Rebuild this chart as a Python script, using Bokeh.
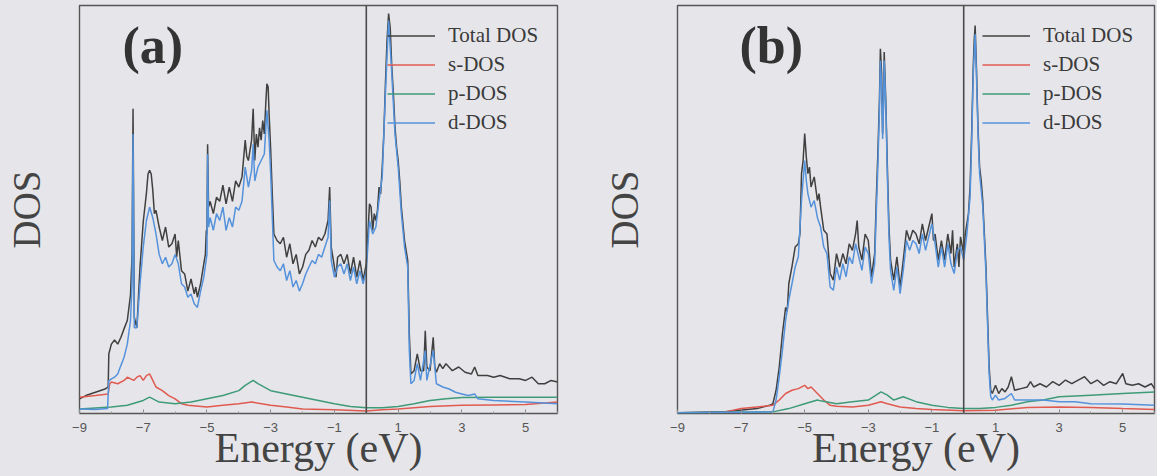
import numpy as np
from bokeh.plotting import figure
from bokeh.models import Span, Label, Legend, LegendItem, FixedTicker, Range1d
from bokeh.layouts import row
from bokeh.embed import file_html
from bokeh.resources import INLINE

# ---------------- data (Energy in eV, DOS in arbitrary units 0-100) ----------------
tick_values = [-9, -7, -5, -3, -1, 1, 3, 5]
minor_values = list(range(-9, 7))
series_names = ["Total DOS", "s-DOS", "p-DOS", "d-DOS"]

a_total = [(-9.0,3.6),(-8.8,4.4),(-8.5,5.2),(-8.2,6.0),(-8.1,6.5),(-8.08,14.6),(-8.0,17),(-7.9,18),(-7.8,17),(-7.7,18.7),
 (-7.6,20.8),(-7.5,22.8),(-7.4,29),(-7.35,39),(-7.32,74.7),(-7.28,23.6),(-7.2,21),(-7.1,36),(-7.0,47),(-6.9,54),
 (-6.85,58.7),(-6.8,59.6),(-6.75,58.7),(-6.7,54.7),(-6.65,49),(-6.6,49.8),(-6.5,45.7),(-6.4,42.4),(-6.3,45.7),(-6.2,40.8),
 (-6.1,41.6),(-6.0,44),(-5.95,38.3),(-5.9,42.4),(-5.8,35),(-5.7,34.2),(-5.6,30),(-5.5,33),(-5.4,29.3),(-5.35,31),
 (-5.3,28.5),(-5.2,31.8),(-5.1,36.7),(-5.05,39),(-5.02,44.9),(-5.0,44),(-4.98,66),(-4.95,50.6),(-4.9,52),(-4.8,49),
 (-4.7,53),(-4.6,52),(-4.5,56),(-4.4,51.4),(-4.3,55.5),(-4.2,52),(-4.1,57),(-4.0,55.5),(-3.9,58),(-3.8,67),
 (-3.75,63),(-3.7,62),(-3.6,67),(-3.55,74.7),(-3.5,62),(-3.45,68.5),(-3.4,65.3),(-3.35,70),(-3.3,67),(-3.25,71.8),
 (-3.2,68.5),(-3.15,76.7),(-3.12,80.8),(-3.08,80),(-3.05,73.4),(-3.0,64.5),(-2.95,53.8),(-2.9,44),(-2.8,42.4),(-2.7,41.6),
 (-2.6,43.2),(-2.5,38.3),(-2.4,41.6),(-2.3,36.7),(-2.2,39),(-2.1,34.2),(-2.0,35.9),(-1.9,39),(-1.8,40),(-1.7,42.4),
 (-1.6,40.8),(-1.5,43.2),(-1.4,42.4),(-1.3,44),(-1.2,47.3),(-1.15,55.5),(-1.1,40.8),(-1.0,35.9),(-0.95,33.4),(-0.9,38.3),
 (-0.8,39),(-0.7,36.7),(-0.6,39),(-0.5,34.2),(-0.4,38.3),(-0.3,33.4),(-0.2,37.5),(-0.1,32.6),(0.0,36.7),(0.05,44),
 (0.1,51.4),(0.15,50.6),(0.2,44.9),(0.25,49),(0.3,47.3),(0.35,49.8),(0.4,55.5),(0.45,53.8),(0.5,60.4),(0.55,68.5),
 (0.6,80.8),(0.65,91.4),(0.7,98),(0.75,94.6),(0.8,84.9),(0.85,78.4),(0.9,70.2),(0.95,65.3),(1.0,62),(1.05,57),
 (1.1,50.6),(1.2,42.4),(1.3,37.5),(1.35,19.5),(1.4,9.7),(1.5,10.5),(1.6,14.6),(1.7,10.5),(1.8,10.5),(1.85,20.3),
 (1.9,11.4),(2.0,10.5),(2.05,14.6),(2.1,18.7),(2.15,11.4),(2.2,10.1),(2.3,12.2),(2.4,11),(2.5,12.2),(2.7,10.5),
 (2.9,11.4),(3.1,10.1),(3.3,9.7),(3.4,11.4),(3.5,9.3),(3.8,9.3),(4.0,8.9),(4.2,9.3),(4.5,8.5),(4.8,8.5),
 (5.0,8.1),(5.2,8.9),(5.4,7.3),(5.6,7.3),(5.8,8.1),(6.0,7.7)]

a_s = [(-9,4),(-8.5,4.4),(-8.1,4.8),(-8.05,7.3),(-8.0,7.7),(-7.8,7.3),(-7.6,8.1),(-7.5,8.9),(-7.3,8.1),(-7.2,8.9),
 (-7.1,9.3),(-7.0,8.1),(-6.9,9.3),(-6.8,9.7),(-6.7,8.1),(-6.6,6.5),(-6.4,5.6),(-6.2,4.4),(-6.0,3.6),(-5.8,2.4),
 (-5.6,2),(-5.0,1.6),(-4.5,2),(-4.0,2.4),(-3.6,2.8),(-3.0,2),(-2.5,1.6),(-2.0,1.1),(-1.0,0.9),(0.0,0.6),
 (0.5,0.9),(1.0,1.1),(2.0,1.7),(3.0,2),(4.0,2.1),(5.0,2.2),(6.0,2.8)]

a_p = [(-9,1.1),(-8.0,1.6),(-7.5,2),(-7.0,3.2),(-6.8,4),(-6.5,2.8),(-6.0,2.4),(-5.5,2.8),(-5.0,3.6),(-4.5,4.4),
 (-4.0,5.6),(-3.8,6.9),(-3.55,8.1),(-3.4,7.3),(-3.0,5.6),(-2.5,4.8),(-2.0,4),(-1.5,3.2),(-1.0,2.4),(-0.5,1.7),
 (0.0,1.4),(0.5,1.4),(1.0,1.7),(1.5,2.4),(2.0,3.2),(2.5,3.6),(3.0,3.9),(4.0,4),(5.0,4),(6.0,4)]

a_d = [(-9,1.1),(-8.5,1.0),(-8.12,1.2),(-8.08,8),(-8.0,8.5),(-7.9,8.9),(-7.8,9.7),(-7.7,11.8),(-7.6,13.8),(-7.5,17),
 (-7.4,22.8),(-7.35,31.8),(-7.32,68.5),(-7.28,21),(-7.2,21),(-7.1,31.8),(-7.0,40.8),(-6.9,47.3),(-6.8,50.6),(-6.7,48),
 (-6.6,44),(-6.5,39),(-6.4,36.7),(-6.3,38.3),(-6.2,35.9),(-6.1,36.7),(-6.0,39),(-5.9,36.7),(-5.8,31.8),(-5.7,31),
 (-5.6,28.5),(-5.5,29.3),(-5.4,26.9),(-5.3,26),(-5.2,30),(-5.1,33.4),(-5.0,39),(-4.98,63.6),(-4.95,45.7),(-4.9,48),
 (-4.8,44.9),(-4.7,49),(-4.6,47.3),(-4.5,50.6),(-4.4,44.9),(-4.3,48),(-4.2,45.7),(-4.1,50.6),(-4.0,49.8),(-3.9,52),
 (-3.8,60.4),(-3.7,55.5),(-3.6,59.6),(-3.55,66),(-3.5,57),(-3.4,60.4),(-3.3,62),(-3.2,63.6),(-3.12,74.3),(-3.05,67),
 (-3.0,58.7),(-2.9,37.5),(-2.8,35.9),(-2.7,35),(-2.6,36.7),(-2.5,32.6),(-2.4,35),(-2.3,31),(-2.2,32.6),(-2.1,30),
 (-2.0,31.8),(-1.9,34.2),(-1.8,35.9),(-1.7,37.5),(-1.6,36.7),(-1.5,39),(-1.4,38.3),(-1.3,40.8),(-1.2,43.2),(-1.15,52.2),
 (-1.1,37.5),(-1.0,33.4),(-0.9,35.9),(-0.8,36.7),(-0.7,34.2),(-0.6,36.7),(-0.5,32.6),(-0.4,35.9),(-0.3,31.8),(-0.2,35),
 (-0.1,31.8),(0.0,35),(0.1,47.3),(0.2,44),(0.3,45.7),(0.4,52.2),(0.5,58),(0.6,78.4),(0.7,96.3),(0.8,83.3),
 (0.9,68.5),(1.0,60.4),(1.1,49),(1.2,40.8),(1.3,35.9),(1.35,15.4),(1.4,7.3),(1.5,8.1),(1.6,12.2),(1.7,8.1),
 (1.85,15.4),(1.9,8.1),(2.1,15.4),(2.2,7.3),(2.4,6.5),(2.6,6),(2.8,5.2),(3.0,4.8),(3.2,4.4),(3.4,4.8),
 (3.5,3.6),(4.0,3.2),(5.0,2.8),(6.0,2.4)]

b_total = [(-9,0.2),(-7.5,0.4),(-6.5,1.2),(-6.1,2),(-6.0,2.4),(-5.9,5.7),(-5.8,11.4),(-5.7,19.6),(-5.6,26),(-5.55,25),
 (-5.5,31.8),(-5.4,36),(-5.3,40.8),(-5.2,41.6),(-5.15,44),(-5.1,58.8),(-5.05,62),(-5.0,68.6),(-4.95,62.9),(-4.9,58.8),
 (-4.85,60.4),(-4.8,55.5),(-4.7,58),(-4.6,52.2),(-4.55,53.9),(-4.5,50.6),(-4.4,44.9),(-4.3,44),(-4.2,34.3),(-4.1,32.7),
 (-4.0,39.2),(-3.9,35.9),(-3.8,39.2),(-3.7,36.7),(-3.6,41.6),(-3.5,40),(-3.4,44),(-3.35,47.3),(-3.3,40.8),(-3.2,37.6),
 (-3.1,44),(-3.0,42.4),(-2.9,33.5),(-2.8,39.2),(-2.75,52.2),(-2.7,63.7),(-2.65,76.7),(-2.62,89.4),(-2.58,83.3),(-2.55,68.6),
 (-2.52,76.7),(-2.5,88.6),(-2.45,76.7),(-2.4,60.4),(-2.35,45.7),(-2.3,37.6),(-2.2,32.7),(-2.1,38.4),(-2.0,31),(-1.9,37.6),
 (-1.8,44.9),(-1.7,42.4),(-1.6,44.9),(-1.5,44),(-1.4,41.6),(-1.3,46.5),(-1.2,42.4),(-1.1,45.7),(-1.0,49),(-0.95,42.4),
 (-0.9,44),(-0.8,37.6),(-0.7,42.4),(-0.6,37.6),(-0.5,44),(-0.4,39.2),(-0.35,44.9),(-0.3,35.9),(-0.2,41.6),(-0.15,35.9),
 (-0.1,43.3),(0.0,39.2),(0.05,44),(0.1,46.5),(0.15,49),(0.2,55.5),(0.25,68.6),(0.3,84.9),(0.33,91.4),(0.36,95.1),
 (0.4,84.9),(0.45,70.2),(0.5,60.4),(0.55,57.1),(0.6,52.2),(0.65,44),(0.7,35.9),(0.75,23.7),(0.8,11.4),(0.85,5.7),
 (0.9,4.9),(1.0,6.9),(1.1,4.9),(1.2,6.1),(1.3,5.3),(1.4,6.5),(1.5,9),(1.6,5.7),(1.8,6.1),(2.0,6.5),
 (2.1,7.8),(2.2,6.5),(2.4,7.3),(2.6,6.5),(2.8,7.8),(3.0,6.9),(3.2,8.2),(3.4,7.3),(3.6,8.2),(3.8,9),
 (4.0,7.3),(4.2,8.2),(4.4,6.9),(4.6,7.8),(4.8,7.3),(5.0,9.8),(5.1,7.3),(5.3,6.9),(5.5,7.3),(5.7,6.5),
 (5.9,7.3),(6.0,6.1)]

b_s = [(-7.5,0.4),(-7.0,1.2),(-6.5,1.6),(-6.0,2),(-5.8,3.3),(-5.6,4.9),(-5.4,5.7),(-5.2,6.1),(-5.0,6.9),(-4.9,6.1),
 (-4.8,6.5),(-4.6,4.9),(-4.4,3.3),(-4.2,2),(-4.0,1.8),(-3.5,1.6),(-3.0,2),(-2.6,2.9),(-2.4,2.4),(-2.0,1.6),
 (-1.5,1.2),(-1.0,1),(0.0,0.7),(1.0,0.8),(2.0,1.5),(3.0,1.6),(4.0,1.5),(5.0,1.2),(6.0,1)]

b_p = [(-9,0.2),(-6.0,0.4),(-5.5,1.2),(-5.0,2.4),(-4.6,3.3),(-4.5,3.1),(-4.0,2.4),(-3.5,2.9),(-3.0,3.3),(-2.6,5.3),
 (-2.4,4.5),(-2.2,3.3),(-1.9,4.1),(-1.5,2.9),(-1.0,2),(-0.5,1.5),(0.0,1.2),(0.5,1.2),(1.0,1.5),(1.5,2),
 (2.0,2.9),(2.5,3.3),(3.0,4.1),(4.0,4.5),(5.0,4.9),(6.0,5.3)]

b_d = [(-9,0.2),(-6.0,0.4),(-5.9,3.3),(-5.8,9),(-5.7,15.5),(-5.6,22.9),(-5.5,27.8),(-5.4,31.8),(-5.3,35.9),(-5.2,38.4),
 (-5.1,52.2),(-5.0,62),(-4.95,57.1),(-4.9,53.9),(-4.8,50.6),(-4.7,52.2),(-4.6,48),(-4.5,45.7),(-4.4,40.8),(-4.3,39.2),
 (-4.2,31),(-4.1,30.2),(-4.0,35.9),(-3.9,32.7),(-3.8,36.7),(-3.7,33.5),(-3.6,38.4),(-3.5,36.7),(-3.4,41.6),(-3.3,38.4),
 (-3.2,35.1),(-3.1,40.8),(-3.0,39.2),(-2.9,31.8),(-2.8,36.7),(-2.75,49),(-2.7,60.4),(-2.65,74.3),(-2.62,86.5),(-2.58,80),
 (-2.55,67.3),(-2.52,75.5),(-2.5,86.5),(-2.45,75.5),(-2.4,58),(-2.35,43.3),(-2.3,35.1),(-2.2,30.2),(-2.1,35.9),(-2.0,29.4),
 (-1.9,35.1),(-1.8,42.4),(-1.7,40),(-1.6,42.4),(-1.5,41.6),(-1.4,39.2),(-1.3,44),(-1.2,40),(-1.1,43.3),(-1.0,46.5),
 (-0.9,41.6),(-0.8,35.9),(-0.7,40.8),(-0.6,35.9),(-0.5,41.6),(-0.4,36.7),(-0.3,34.3),(-0.2,40),(-0.1,40.8),(0.0,37.6),
 (0.1,44),(0.2,53),(0.25,66.1),(0.3,83.3),(0.36,93),(0.4,83.3),(0.45,68.6),(0.5,58.8),(0.6,50.6),(0.7,34.3),
 (0.75,22),(0.8,9.8),(0.85,4.1),(0.9,3.3),(1.0,4.5),(1.1,3.3),(1.3,3.7),(1.5,4.9),(1.6,3.3),(2.0,3.3),
 (2.5,3.3),(3.0,2.9),(3.5,2.9),(4.0,2.4),(5.0,2.3),(6.0,2)]

# ---------------- styling ----------------
BG = "#e6e6ea"
INK = "#3a3a3a"
COLORS = ["#404040", "#e05a50", "#3f9a78", "#5592dc"]
SERIF = "Liberation Serif"
SANS = "Liberation Sans"


def split(pairs):
    return [p[0] for p in pairs], [p[1] for p in pairs]


def make_panel(tag, data, width, left, right, tag_x, legend_x):
    p = figure(width=width, height=476, x_range=Range1d(-9, 6), y_range=Range1d(0, 100),
               output_backend="svg", toolbar_location=None,
               min_border_left=left, min_border_right=right,
               min_border_top=5, min_border_bottom=63)
    p.background_fill_color = BG
    p.border_fill_color = BG
    p.outline_line_color = "#555555"
    p.outline_line_width = 1.4
    p.xgrid.visible = False
    p.ygrid.visible = False

    ax = p.xaxis[0]
    ax.ticker = FixedTicker(ticks=tick_values, minor_ticks=minor_values)
    ax.axis_line_color = None
    ax.major_tick_in = 4
    ax.major_tick_out = 0
    ax.minor_tick_in = 2
    ax.minor_tick_out = 0
    ax.major_tick_line_color = "#888888"
    ax.minor_tick_line_color = "#999999"
    ax.major_label_text_font = SANS
    ax.major_label_text_font_size = "13px"
    ax.major_label_text_color = "#555555"
    ax.major_label_standoff = 9
    ax.axis_label = "Energy (eV)"
    ax.axis_label_text_font = SERIF
    ax.axis_label_text_font_style = "normal"
    ax.axis_label_text_font_size = "42px"
    ax.axis_label_text_color = "#444444"
    ax.axis_label_standoff = -10

    ay = p.yaxis[0]
    ay.ticker = FixedTicker(ticks=[])
    ay.axis_line_color = None
    ay.major_tick_out = 0
    ay.major_tick_in = 0
    ay.minor_tick_out = 0
    ay.minor_tick_in = 0
    ay.major_label_standoff = 0
    ay.axis_label = "DOS"
    ay.axis_label_text_font = SERIF
    ay.axis_label_text_font_style = "normal"
    ay.axis_label_text_font_size = "39px"
    ay.axis_label_text_color = "#444444"
    ay.axis_label_standoff = 32

    p.add_layout(Span(location=0, dimension="height", line_color="#4a4a4a", line_width=1.6))

    items = []
    for name, pairs, col in zip(series_names, data, COLORS):
        xs, ys = split(pairs)
        r = p.line(xs, ys, line_color=col, line_width=1.5)
        items.append(LegendItem(label=name, renderers=[r]))

    legend = Legend(items=items, location=(legend_x, 278),
                    border_line_color=None, background_fill_alpha=0,
                    label_text_font=SERIF, label_text_font_size="21px",
                    label_text_color=INK, glyph_width=48, glyph_height=25,
                    label_height=25, spacing=4, padding=0, margin=0,
                    label_standoff=13)
    p.add_layout(legend)

    p.add_layout(Label(x=tag_x, y=90.2, text=tag, text_font=SERIF, text_font_style="bold",
                       text_font_size="52px", text_align="center", text_baseline="middle",
                       text_color="#333333"))
    return p


pa = make_panel("(a)", [a_total, a_s, a_p, a_d], 598, 79, 41, -6.7, 308)
pb = make_panel("(b)", [b_total, b_s, b_p, b_d], 559, 79, 3, -6.05, 305)

layout = row(pa, pb, spacing=0, styles={"background-color": BG})
html = file_html(layout, INLINE)
html = html.replace("<body>", '<body style="margin:0;background:%s">' % BG)
open("out.html", "w").write(html)
